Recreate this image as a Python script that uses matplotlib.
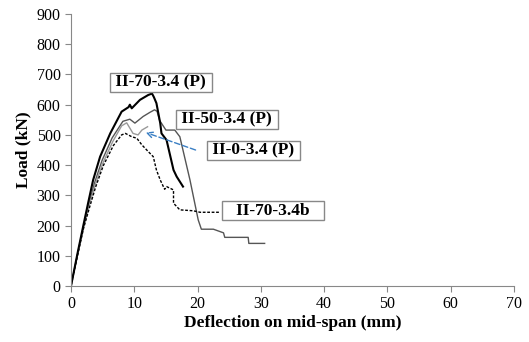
import numpy as np
import matplotlib.pyplot as plt

plt.rcParams['font.family'] = ['Liberation Serif', 'DejaVu Serif']

# II-70-3.4 (P)
x70 = [0, 1, 2, 2.7, 3.5, 4.6, 6.2, 8.0, 9.1, 9.3, 9.6, 10.9, 12.2, 12.8, 13.1, 13.5, 14.1, 14.3, 15.1, 16.2, 16.7, 17.7]
y70 = [0, 105, 205, 274, 351, 428, 505, 577, 592, 600, 588, 616, 632, 637, 625, 605, 539, 505, 483, 384, 362, 329]

# II-50-3.4 (P)
x50 = [0, 1, 2, 2.8, 3.7, 4.9, 6.5, 8.2, 9.3, 10.1, 11.4, 12.5, 13.2, 13.6, 14.0, 15.0, 16.4, 17.2, 18.8, 20.1, 20.6,
       22.5, 24.1, 24.3, 28.0, 28.1, 30.6]
y50 = [0, 102, 200, 268, 340, 415, 490, 545, 552, 539, 561, 575, 583, 578, 548, 516, 516, 494, 351, 219, 188,
       188, 176, 161, 161, 141, 141]

# II-0-3.4 (P)
x0 = [0, 1, 2, 2.8, 3.8, 5.0, 6.6, 8.0, 8.8, 9.8, 10.6, 11.2, 12.1]
y0 = [0, 100, 196, 262, 333, 405, 478, 530, 540, 505, 500, 516, 527]

# II-70-3.4b
xb = [0, 1, 2, 2.9, 3.9, 5.1, 6.7, 8.0, 8.6, 9.6, 10.4, 11.2, 12.2, 13.0, 13.5, 14.1, 14.8, 15.1, 16.2, 16.2, 17.2,
      19.3, 20.4, 23.5]
yb = [0, 98, 192, 258, 328, 398, 465, 500, 505, 494, 489, 467, 445, 428, 384, 351, 320, 329, 318, 274, 252,
      249, 244, 244]

fig, ax = plt.subplots(figsize=(5.29, 3.42), dpi=100)
fig.subplots_adjust(left=0.1342, right=0.9716, top=0.959, bottom=0.1637)

ax.plot(x50, y50, color='#555555', lw=1.0)
ax.plot(x0, y0, color='#999999', lw=1.0)
ax.plot(xb, yb, color='black', lw=1.0, ls=(0, (2, 1.2)))
ax.plot(x70, y70, color='black', lw=1.5)

ax.set_xlim(0, 70)
ax.set_ylim(0, 900)
ax.set_xticks(np.arange(0, 71, 10))
ax.set_yticks(np.arange(0, 901, 100))
for s in ['top', 'right']:
    ax.spines[s].set_visible(False)
for s in ['left', 'bottom']:
    ax.spines[s].set_color('#888888')
ax.tick_params(colors='#888888', labelcolor='black', labelsize=11.5, length=4)
ax.set_xlabel('Deflection on mid-span (mm)', fontsize=12.5, fontweight='bold', labelpad=2)
ax.set_ylabel('Load (kN)', fontsize=12.5, fontweight='bold', labelpad=4)

box = dict(boxstyle='square,pad=0.08', fc='white', ec='#888888', lw=1.0)
kw = dict(fontsize=12.5, fontweight='bold', bbox=box, ha='center', va='center')
ax.text(14.2, 674, ' II-70-3.4 (P) ', **kw)
ax.text(24.6, 551, ' II-50-3.4 (P) ', **kw)
ax.text(28.85, 449, ' II-0-3.4 (P) ', **kw)
ax.text(31.95, 249, '   II-70-3.4b   ', **kw)

ax.annotate('', xy=(11.4, 511), xytext=(20.1, 447),
            arrowprops=dict(arrowstyle='->', color='#3a7fc4', lw=1.0, ls=(0, (4, 2))))

fig.savefig('out.png')
